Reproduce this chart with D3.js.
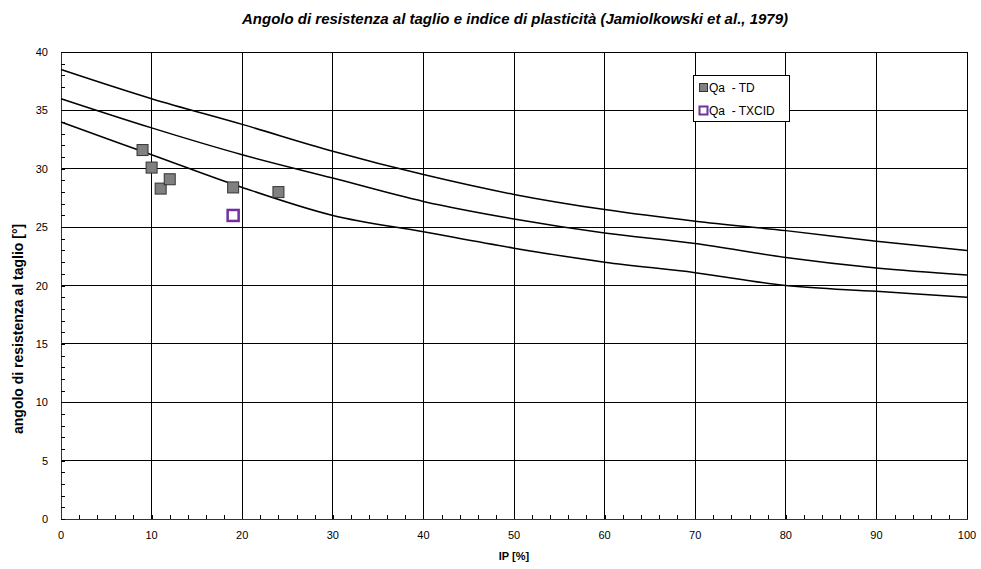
<!DOCTYPE html>
<html>
<head>
<meta charset="utf-8">
<script src="https://cdn.jsdelivr.net/npm/d3@7"></script>
<style>
  html, body { margin: 0; padding: 0; background: #fff; }
  svg text { font-family: "Liberation Sans", Arial, sans-serif; fill: #000; }
</style>
</head>
<body>
<svg id="chart" width="981" height="569"></svg>
<script>
// Reference curves (Jamiolkowski et al., 1979): friction angle vs plasticity index
const ipGrid = [0, 10, 20, 30, 40, 50, 60, 70, 80, 90, 100];
const curveUpper = [38.5, 36.0, 33.8, 31.5, 29.5, 27.8, 26.5, 25.5, 24.7, 23.8, 23.0];
const curveMiddle = [36.0, 33.5, 31.2, 29.2, 27.2, 25.7, 24.5, 23.6, 22.4, 21.5, 20.9];
const curveLower = [34.0, 31.2, 28.4, 26.0, 24.6, 23.2, 22.0, 21.1, 20.0, 19.5, 19.0];

// Test results
const tdIP = [9, 10, 11, 12, 19, 24];
const tdPhi = [31.6, 30.1, 28.3, 29.1, 28.4, 28.0];
const txcidIP = [19];
const txcidPhi = [26.0];

const xTicks = [0, 10, 20, 30, 40, 50, 60, 70, 80, 90, 100];
const yTicks = [0, 5, 10, 15, 20, 25, 30, 35, 40];
const legendLabels = ["Qa  - TD", "Qa  - TXCID"];

const svg = d3.select("#chart");
const m = { left: 61, right: 967, top: 52, bottom: 519 };

const x = d3.scaleLinear().domain([0, 100]).range([m.left, m.right]);
const y = d3.scaleLinear().domain([0, 40]).range([m.bottom, m.top]);

// Gridlines
const grid = svg.append("g").attr("stroke", "#000").attr("stroke-width", 1).attr("shape-rendering", "crispEdges");
xTicks.forEach(t => grid.append("line").attr("x1", x(t)).attr("x2", x(t)).attr("y1", m.top).attr("y2", m.bottom));
yTicks.forEach(t => grid.append("line").attr("x1", m.left).attr("x2", m.right).attr("y1", y(t)).attr("y2", y(t)));

// Axes with inward minor ticks
const xAxis = svg.append("g").attr("transform", `translate(0,${m.bottom})`)
  .call(d3.axisBottom(x).tickValues(d3.range(0, 101, 2)).tickSize(-4).tickFormat(""));
const yAxis = svg.append("g").attr("transform", `translate(${m.left},0)`)
  .call(d3.axisLeft(y).tickValues(d3.range(0, 41, 1)).tickSize(-4).tickFormat(""));
[xAxis, yAxis].forEach(a => {
  a.selectAll("path").attr("stroke", "#333").attr("stroke-width", 1.5).attr("shape-rendering", "crispEdges");
  a.selectAll("line").attr("stroke", "#000").attr("shape-rendering", "crispEdges");
});

// Tick labels
svg.append("g").selectAll("text").data(xTicks).join("text")
  .attr("x", d => x(d)).attr("y", m.bottom + 20)
  .attr("text-anchor", "middle").attr("font-size", 11).text(d => d);
svg.append("g").selectAll("text").data(yTicks).join("text")
  .attr("x", m.left - 13).attr("y", d => y(d) + 4)
  .attr("text-anchor", "end").attr("font-size", 11).text(d => d);

// Curves
const line = d3.line().x(d => x(d[0])).y(d => y(d[1])).curve(d3.curveCatmullRom.alpha(0.5));
[curveUpper, curveMiddle, curveLower].forEach(c => {
  svg.append("path").datum(ipGrid.map((v, i) => [v, c[i]]))
    .attr("d", line).attr("fill", "none").attr("stroke", "#000").attr("stroke-width", 1.5);
});

// TD points
const s1 = 11;
svg.append("g").selectAll("rect").data(tdIP.map((v, i) => [v, tdPhi[i]])).join("rect")
  .attr("x", d => x(d[0]) - s1 / 2).attr("y", d => y(d[1]) - s1 / 2)
  .attr("width", s1).attr("height", s1)
  .attr("fill", "#808080").attr("stroke", "#333").attr("stroke-width", 1);

// TXCID points
const s2 = 11;
svg.append("g").selectAll("rect").data(txcidIP.map((v, i) => [v, txcidPhi[i]])).join("rect")
  .attr("x", d => x(d[0]) - s2 / 2).attr("y", d => y(d[1]) - s2 / 2)
  .attr("width", s2).attr("height", s2)
  .attr("fill", "#fff").attr("stroke", "#7030A0").attr("stroke-width", 2.5);

// Legend
const lg = svg.append("g");
lg.append("rect").attr("x", 693.5).attr("y", 75.5).attr("width", 96).attr("height", 46)
  .attr("fill", "#fff").attr("stroke", "#000").attr("stroke-width", 1);
lg.append("rect").attr("x", 699.5).attr("y", 83.5).attr("width", 8).attr("height", 8)
  .attr("fill", "#808080").attr("stroke", "#333").attr("stroke-width", 1);
lg.append("rect").attr("x", 699.5).attr("y", 106.5).attr("width", 8).attr("height", 8)
  .attr("fill", "#fff").attr("stroke", "#7030A0").attr("stroke-width", 2);
legendLabels.forEach((t, i) => {
  lg.append("text").attr("x", 709).attr("y", 92 + i * 23).attr("font-size", 12)
    .attr("xml:space", "preserve").style("white-space", "pre").text(t);
});

// Titles
svg.append("text").attr("x", 515).attr("y", 24)
  .attr("text-anchor", "middle").attr("font-size", 15).attr("font-weight", "bold").attr("font-style", "italic")
  .text("Angolo di resistenza al taglio e indice di plasticità (Jamiolkowski et al., 1979)");
svg.append("text").attr("x", (m.left + m.right) / 2).attr("y", 560)
  .attr("text-anchor", "middle").attr("font-size", 11).attr("font-weight", "bold").text("IP [%]");
svg.append("text").attr("transform", `translate(23,434) rotate(-90)`)
  .attr("text-anchor", "start").attr("font-size", 14).attr("font-weight", "bold")
  .text("angolo di resistenza al taglio [°]");
</script>
</body>
</html>
